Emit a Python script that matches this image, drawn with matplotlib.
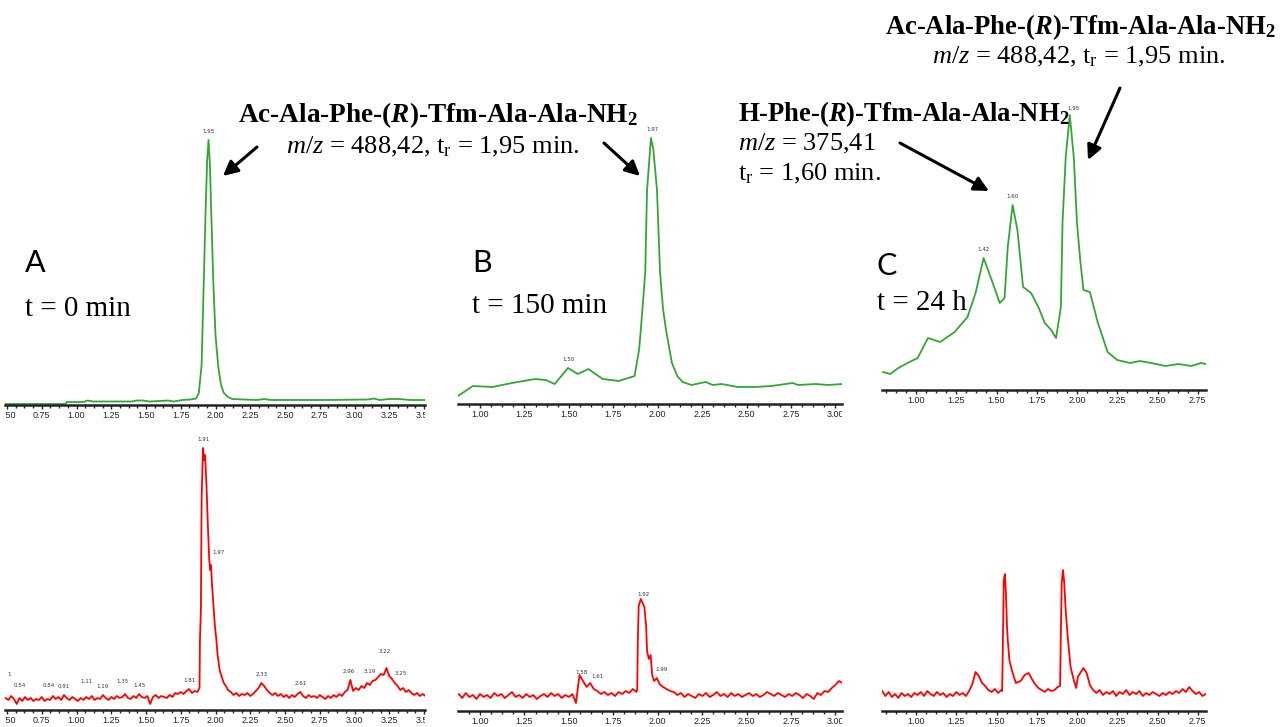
import numpy as np
import matplotlib
matplotlib.use("Agg")
import matplotlib.pyplot as plt
from matplotlib.ticker import MultipleLocator, FormatStrFormatter
from matplotlib.transforms import Bbox, TransformedBbox

# figure size in pixels
W, H = 1288, 727
PANEL_H = 300

plt.rcParams['font.family'] = ['Liberation Serif', 'DejaVu Serif']
plt.rcParams['mathtext.fontset'] = 'custom'
plt.rcParams['mathtext.rm'] = 'Liberation Serif'
plt.rcParams['mathtext.it'] = 'Liberation Serif:italic'
plt.rcParams['mathtext.bf'] = 'Liberation Serif:bold'
plt.rcParams['mathtext.bfit'] = 'Liberation Serif:italic:bold'

GREEN = '#35a535'
RED = '#ff0000'

# ---------------------------------------------------------------------------
# Data (retention time in min, signal in arbitrary units)
# ---------------------------------------------------------------------------

# A, t = 0 min, UV trace
a_top_t = [0.49, 0.92, 0.93, 1.05, 1.08, 1.12, 1.40, 1.43, 1.48, 1.52, 1.60, 1.66,
           1.70, 1.76, 1.82, 1.86, 1.88, 1.90, 1.915, 1.93, 1.94, 1.95, 1.96, 1.97,
           1.985, 2.00, 2.02, 2.04, 2.06, 2.09, 2.12, 2.20, 2.30, 2.35, 2.40, 2.60,
           2.80, 3.10, 3.14, 3.18, 3.25, 3.32, 3.40, 3.51]
a_top_h = [1, 1, 3, 3, 4.5, 3.5, 3.5, 4.5, 4.5, 3.5, 4, 4.5,
           3.5, 5, 5.5, 6.5, 12, 40, 120, 200, 245, 265, 240, 190,
           120, 70, 38, 20, 12, 8, 6, 5.5, 5, 6, 5, 5,
           5, 5.5, 6.5, 5, 6, 6, 5, 5]
a_top_labels = [1.95]

# A, t = 0 min, MS trace (baseline every 0.02 min + peak region)
a_bot_base1 = [12, 10, 14, 11, 6, 12, 9, 13, 10, 12, 9, 11, 10, 13, 9, 11, 10, 14,
               11, 13, 10, 15, 12, 10, 13, 11, 9, 12, 10, 13, 11, 14, 10, 12, 11, 15,
               12, 10, 13, 11, 14, 12, 13, 16, 12, 11, 14, 12, 16, 13, 12, 14, 6, 13,
               15, 12, 14, 13, 12, 15, 13, 17, 16, 18, 16, 19, 21, 17, 19, 18]
a_bot_peak_t = [1.885, 1.888, 1.895, 1.90, 1.91, 1.918, 1.925, 1.935, 1.945, 1.955,
                1.962, 1.968, 1.975, 1.985, 1.995, 2.005, 2.015, 2.03, 2.045, 2.06,
                2.075, 2.09]
a_bot_peak_h = [22, 70, 100, 210, 262, 250, 255, 225, 185, 150,
                140, 145, 125, 105, 85, 72, 55, 40, 33, 27,
                24, 20]
a_bot_base2 = [18, 15, 17, 14, 16, 15, 17, 14, 16, 19, 22, 27, 24, 20, 17, 15, 17, 14,
               16, 13, 15, 12, 15, 13, 16, 18, 14, 12, 15, 13, 14, 12, 15, 13, 11, 14,
               12, 15, 13, 16, 14, 18, 20, 30, 19, 22, 20, 24, 22, 27, 25, 29, 30, 33,
               36, 35, 42, 34, 31, 27, 24, 20, 22, 18, 20, 17, 15, 17, 14, 16, 14]
a_bot_labels = [0.54, 0.84, 0.91, 1.11, 1.19, 1.35, 1.45, 1.81, 1.91, 1.97,
                2.33, 2.61, 2.96, 3.19, 3.22, 3.25]

# B, t = 150 min, UV trace
b_top_t = [0.876, 0.96, 1.07, 1.18, 1.31, 1.37, 1.42, 1.495, 1.55, 1.61,
           1.69, 1.78, 1.87, 1.895, 1.905, 1.93, 1.94, 1.962, 1.975, 1.996,
           2.013, 2.03, 2.047, 2.08, 2.11, 2.14, 2.19, 2.27, 2.31, 2.36,
           2.45, 2.55, 2.64, 2.76, 2.79, 2.89, 2.96, 3.04]
b_top_h = [8, 18, 17, 21, 25, 24, 20, 36, 30, 35,
           25, 23, 28, 54, 74, 132, 214, 266, 255, 214,
           132, 95, 74, 41, 28, 22, 19, 22, 19, 20,
           17, 17, 18, 21, 19, 20, 19, 20]
b_top_labels = [1.50, 1.97]

# B, t = 150 min, MS trace
b_bot_base1 = [17, 13, 18, 14, 16, 12, 17, 14, 16, 13, 18, 15, 17, 13, 16, 19, 14,
               16, 13, 17, 14, 16, 12, 15, 17, 14, 18, 15, 17, 13, 16, 14, 17, 8,
               36, 30, 24, 28, 22, 20, 17, 19, 16, 18, 15, 19, 17, 20, 18, 22, 19]
b_bot_peak_t = [1.885, 1.888, 1.893, 1.905, 1.915, 1.925, 1.935, 1.94, 1.95, 1.96,
                1.965, 1.97, 1.98, 1.995, 2.01, 2.03, 2.05, 2.07]
b_bot_peak_h = [22, 70, 105, 112, 108, 104, 85, 60, 52, 56,
                45, 35, 30, 33, 27, 24, 22, 20]
b_bot_base2 = [19, 16, 18, 14, 17, 15, 13, 17, 15, 18, 14, 16, 19, 15, 17, 14, 18,
               15, 17, 14, 16, 18, 15, 17, 14, 16, 19, 17, 15, 18, 16, 14, 17, 15,
               18, 16, 13, 17, 15, 12, 18, 16, 20, 19, 23, 26, 30, 28]
b_bot_labels = [1.58, 1.61, 1.92, 1.99]

# C, t = 24 h, UV trace
c_top_t = [0.795, 0.84, 0.89, 0.96, 1.01, 1.075, 1.15, 1.24, 1.32, 1.37,
           1.42, 1.47, 1.52, 1.55, 1.57, 1.60, 1.63, 1.665, 1.715, 1.76,
           1.80, 1.84, 1.87, 1.90, 1.91, 1.93, 1.955, 1.98, 2.00, 2.02,
           2.04, 2.08, 2.13, 2.19, 2.25, 2.33, 2.39, 2.46, 2.55, 2.63,
           2.71, 2.77, 2.80]
c_top_h = [18, 16, 22, 28, 32, 52, 48, 58, 73, 97,
           132, 110, 87, 92, 143, 185, 160, 103, 97, 83,
           67, 60, 52, 83, 167, 233, 275, 233, 167, 130,
           100, 98, 67, 38, 30, 27, 29, 27, 24, 26,
           24, 27, 26]
c_top_labels = [1.42, 1.60, 1.95]

# C, t = 24 h, MS trace
c_bot_base1 = [20, 15, 19, 14, 17, 13, 18, 15, 17, 14, 18, 16, 19, 15, 20, 17, 15,
               19, 16, 18, 14, 17, 15, 19, 16, 18, 15, 20, 27, 39, 35, 28, 25, 21,
               19, 22, 18, 21]
c_bot_peak_t = [1.535, 1.54, 1.545, 1.552, 1.558, 1.565, 1.57, 1.58, 1.595, 1.62,
                1.65, 1.675, 1.70, 1.72, 1.735, 1.76, 1.78, 1.80, 1.82, 1.84,
                1.86, 1.88, 1.895, 1.90, 1.905, 1.913, 1.92, 1.93, 1.944, 1.96,
                1.98, 1.995, 2.005, 2.04, 2.06, 2.08, 2.10]
c_bot_peak_h = [20, 70, 130, 137, 120, 85, 71, 51, 41, 28,
                30, 36, 38, 32, 28, 23, 21, 19, 22, 20,
                21, 24, 25, 80, 128, 141, 130, 100, 71, 44,
                31, 23, 34, 43, 38, 26, 21]
c_bot_base2 = [18, 21, 16, 19, 17, 20, 15, 19, 17, 21, 16, 19, 17, 20, 15, 18, 16,
               19, 17, 15, 18, 16, 19, 17, 20, 18, 22, 19, 24, 20, 17, 19, 15, 17]

# where a peak label sits beside its peak (shift in min, lift in signal units)
label_shift = {0.54: (0.05, 2), 0.84: (-0.04, 2), 1.11: (-0.04, 6), 1.35: (-0.02, 4),
               1.97: (0.05, 4), 3.19: (-0.08, -6), 3.22: (0.0, 8), 3.25: (0.08, -6),
               1.58: (-0.01, 0), 1.61: (0.05, -2), 1.99: (0.03, 0), 1.95: (0.03, -2)}

# ---------------------------------------------------------------------------


def ms_trace(t1, t2, base1, peak_t, peak_h, t3, t4, base2):
    t = np.concatenate([np.linspace(t1, t2, len(base1)), peak_t,
                        np.linspace(t3, t4, len(base2))])
    h = np.concatenate([base1, peak_h, base2])
    return t, h


fig = plt.figure(figsize=(W / 100, H / 100), dpi=100)


def add_panel(left, right, axis_y, t_ref, px_ref, px_per_min):
    tmin = t_ref + (left - px_ref) / px_per_min
    tmax = t_ref + (right - px_ref) / px_per_min
    ax = fig.add_axes([left / W, 1 - axis_y / H, (right - left) / W, PANEL_H / H])
    ax.set_xlim(tmin, tmax)
    ax.set_ylim(0, PANEL_H)
    ax.patch.set_visible(False)
    for s in ['left', 'right', 'top']:
        ax.spines[s].set_visible(False)
    ax.spines['bottom'].set_linewidth(1.8)
    ax.spines['bottom'].set_color('#222222')
    ax.yaxis.set_visible(False)
    ax.xaxis.set_major_locator(MultipleLocator(0.25))
    ax.xaxis.set_minor_locator(MultipleLocator(0.0625))
    ax.xaxis.set_major_formatter(FormatStrFormatter('%.2f'))
    ax.tick_params(axis='x', which='major', length=3, width=1, pad=1.5,
                   labelsize=6.5, colors='#222222', labelfontfamily='Liberation Sans')
    ax.tick_params(axis='x', which='minor', length=2, width=1, colors='#222222')
    # labels cut at the panel edges, as in the scanned figure
    clip = TransformedBbox(Bbox([[left / W, 0], [right / W, 1]]), fig.transFigure)
    for tick in ax.xaxis.get_major_ticks():
        tick.label1.set_clip_box(clip)
        tick.label1.set_clip_on(True)
    return ax


def peak_labels(ax, t, h, labels, dy=6):
    for lt in labels:
        near = (t > lt - 0.015) & (t < lt + 0.015)
        top = h[near].max() if near.any() else np.interp(lt, t, h)
        sx, sy = label_shift.get(lt, (0.0, 0))
        ax.text(lt + sx, top + dy + sy, f'{lt:.2f}', ha='center', va='bottom',
                fontsize=4, family='DejaVu Sans', color='#333333')


panels = {
    'A': (5, 425, 0.5, 7, 139.0),
    'B': (458, 842, 1.0, 480, 177.7),
    'C': (882, 1206, 1.0, 916, 161.0),
}
top_axis_y = {'A': 405, 'B': 404, 'C': 390}
bot_axis_y = {'A': 710, 'B': 711, 'C': 711}

# top row (UV, green)
tops = {
    'A': (a_top_t, a_top_h, a_top_labels),
    'B': (b_top_t, b_top_h, b_top_labels),
    'C': (c_top_t, c_top_h, c_top_labels),
}
for key, (t, h, labels) in tops.items():
    left, right, t_ref, px_ref, ppm = panels[key]
    ax = add_panel(left, right, top_axis_y[key], t_ref, px_ref, ppm)
    t = np.asarray(t)
    h = np.asarray(h, dtype=float)
    ax.plot(t, h, color=GREEN, lw=1.3)
    # only the C panel's 1.95 label is shifted off the headline
    peak_labels(ax, t, h, labels) if key == 'C' else \
        [ax.text(lt, h[(t > lt - 0.015) & (t < lt + 0.015)].max() + 6, f'{lt:.2f}',
                 ha='center', va='bottom', fontsize=4, family='DejaVu Sans',
                 color='#333333') for lt in labels]

# bottom row (MS, red)
bots = {
    'A': (ms_trace(0.49, 1.87, a_bot_base1, a_bot_peak_t, a_bot_peak_h, 2.11, 3.51, a_bot_base2), a_bot_labels),
    'B': (ms_trace(0.88, 1.88, b_bot_base1, b_bot_peak_t, b_bot_peak_h, 2.09, 3.04, b_bot_base2), b_bot_labels),
    'C': (ms_trace(0.79, 1.53, c_bot_base1, c_bot_peak_t, c_bot_peak_h, 2.12, 2.80, c_bot_base2), []),
}
for key, ((t, h), labels) in bots.items():
    left, right, t_ref, px_ref, ppm = panels[key]
    ax = add_panel(left, right, bot_axis_y[key], t_ref, px_ref, ppm)
    ax.plot(t, h, color=RED, lw=1.3)
    peak_labels(ax, t, h, labels)
    if key == 'A':
        ax.text(0.5, 34, '1', fontsize=4, family='DejaVu Sans', color='#333333')

# overlay in pixel coordinates for texts and arrows
ov = fig.add_axes([0, 0, 1, 1])
ov.set_xlim(0, W)
ov.set_ylim(H, 0)
ov.axis('off')

head_ac = r'Ac-Ala-Phe-($\mathbfit{R}$)-Tfm-Ala-Ala-NH$_\mathregular{2}$'
head_h = r'H-Phe-($\mathbfit{R}$)-Tfm-Ala-Ala-NH$_\mathregular{2}$'
mz_ac = r'$\mathit{m/z}$ = 488,42, t$_\mathregular{r}$ = 1,95 min.'
mz_h = r'$\mathit{m/z}$ = 375,41'
tr_h = r't$_\mathregular{r}$ = 1,60 min.'

FS = 19
ov.text(238, 122, head_ac, fontsize=19.6, fontweight='bold', va='baseline')
ov.text(286, 153, mz_ac, fontsize=FS, va='baseline')
ov.text(885, 34, head_ac, fontsize=19.2, fontweight='bold', va='baseline')
ov.text(932, 63, mz_ac, fontsize=FS, va='baseline')
ov.text(738, 121, head_h, fontsize=19.2, fontweight='bold', va='baseline')
ov.text(738, 150, mz_h, fontsize=FS, va='baseline')
ov.text(738, 180, tr_h, fontsize=FS, va='baseline')

for letter, x, y in [('A', 25, 272), ('B', 472, 272), ('C', 877, 275)]:
    ov.text(x, y, letter, fontsize=22, family='Lato', va='baseline')
for s, x, y in [('t = 0 min', 25, 316), ('t = 150 min', 472, 313), ('t = 24 h', 877, 310)]:
    ov.text(x, y, s, fontsize=21, va='baseline')

arrows = [((257, 147), (223, 176)),
          ((604, 143), (640, 176)),
          ((900, 143), (989, 191)),
          ((1120, 88), (1088, 160))]
for tail, tip in arrows:
    ov.annotate('', xy=tip, xytext=tail,
                arrowprops=dict(arrowstyle='-|>', lw=2.2, color='black',
                                mutation_scale=22, shrinkA=0, shrinkB=0))

fig.savefig('out.png', dpi=100)
